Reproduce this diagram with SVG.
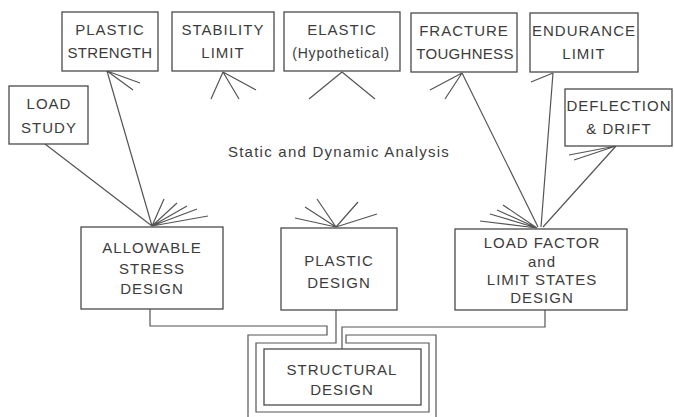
<svg xmlns="http://www.w3.org/2000/svg" width="674" height="417" viewBox="0 0 674 417">
<style>
.box{fill:#fff;stroke:#4a4a4a;stroke-width:1.3}
.ln{fill:none;stroke:#555;stroke-width:1.2}
.t{font-family:"Liberation Sans",Arial,sans-serif;font-size:15px;letter-spacing:1px;fill:#3c3c3c;text-anchor:middle}
.s{font-size:14px;letter-spacing:0.8px}
.m{font-size:15px;letter-spacing:1.25px}
.n{letter-spacing:0.3px}
</style>
<rect width="674" height="417" fill="#fff"/>
<g id="connectors" class="ln">
<path d="M45,144 L152,226 M107,71 L152,226 M152,226 L164,199 M152,226 L177,203 M152,226 L187,206 M152,226 L197,209 M152,226 L208,216"/>
<path d="M107,71 L140,83 M107,71 L133,90"/>
<path d="M223,72 L211,99 M223,72 L239,99 M223,72 L256,90"/>
<path d="M342,72 L309,99 M342,72 L375,99"/>
<path d="M336,227 L295,218 M336,227 L305,207 M336,227 L317,199 M336,227 L358,202 M336,227 L377,214"/>
<path d="M462,73 L538,227 M553,73 L541,227 M616,146 L543,227"/>
<path d="M537,228 L480,221 M537,228 L490,214 M537,228 L497,210 M537,228 L503,205"/>
<path d="M462,73 L430,90 M462,73 L445,99 M553,73 L531,82 M616,146 L569,155 M616,146 L574,160"/>
<path d="M150,309 V326 H327 V335 H248 V420"/>
<path d="M336,310 V343 H256 V412 H429 V343 H346 V335 H436 V420"/>
<path d="M545,310 V327 H342 V349"/>
</g>
<g id="plastic-strength"><rect class="box" x="62" y="12" width="96" height="59"/><text class="t" x="110" y="35">PLASTIC</text><text class="t n" x="110" y="58">STRENGTH</text></g>
<g id="stability-limit"><rect class="box" x="172" y="12" width="102" height="59"/><text class="t" x="223" y="35">STABILITY</text><text class="t" x="223" y="58">LIMIT</text></g>
<g id="elastic"><rect class="box" x="284" y="12" width="116" height="59"/><text class="t" x="342" y="35">ELASTIC</text><text class="t s" x="341" y="58">(Hypothetical)</text></g>
<g id="fracture-toughness"><rect class="box" x="411" y="13" width="106" height="59"/><text class="t" x="464" y="36">FRACTURE</text><text class="t n" x="465" y="59">TOUGHNESS</text></g>
<g id="endurance-limit"><rect class="box" x="530" y="13" width="108" height="59"/><text class="t" x="584" y="36">ENDURANCE</text><text class="t" x="584" y="59">LIMIT</text></g>
<g id="deflection-drift"><rect class="box" x="565" y="89" width="107" height="57"/><text class="t" x="619" y="111">DEFLECTION</text><text class="t" x="619" y="134">&amp; DRIFT</text></g>
<g id="load-study"><rect class="box" x="9" y="86" width="79" height="58"/><text class="t" x="49" y="109">LOAD</text><text class="t" x="49" y="133">STUDY</text></g>
<g id="analysis-label"><text class="t m" x="339" y="157">Static and Dynamic Analysis</text></g>
<g id="allowable-stress-design"><rect class="box" x="81" y="227" width="142" height="82"/><text class="t" x="152" y="253">ALLOWABLE</text><text class="t" x="152" y="274">STRESS</text><text class="t" x="152" y="294">DESIGN</text></g>
<g id="plastic-design"><rect class="box" x="281" y="228" width="116" height="82"/><text class="t" x="339" y="266">PLASTIC</text><text class="t" x="339" y="288">DESIGN</text></g>
<g id="load-factor-design"><rect class="box" x="455" y="229" width="172" height="81"/><text class="t" x="542" y="248">LOAD FACTOR</text><text class="t" x="542" y="267">and</text><text class="t" x="542" y="285">LIMIT STATES</text><text class="t" x="542" y="303">DESIGN</text></g>
<g id="structural-design"><rect class="box" x="264" y="349" width="157" height="56"/><text class="t" x="342" y="375">STRUCTURAL</text><text class="t" x="342" y="395">DESIGN</text></g>
</svg>
